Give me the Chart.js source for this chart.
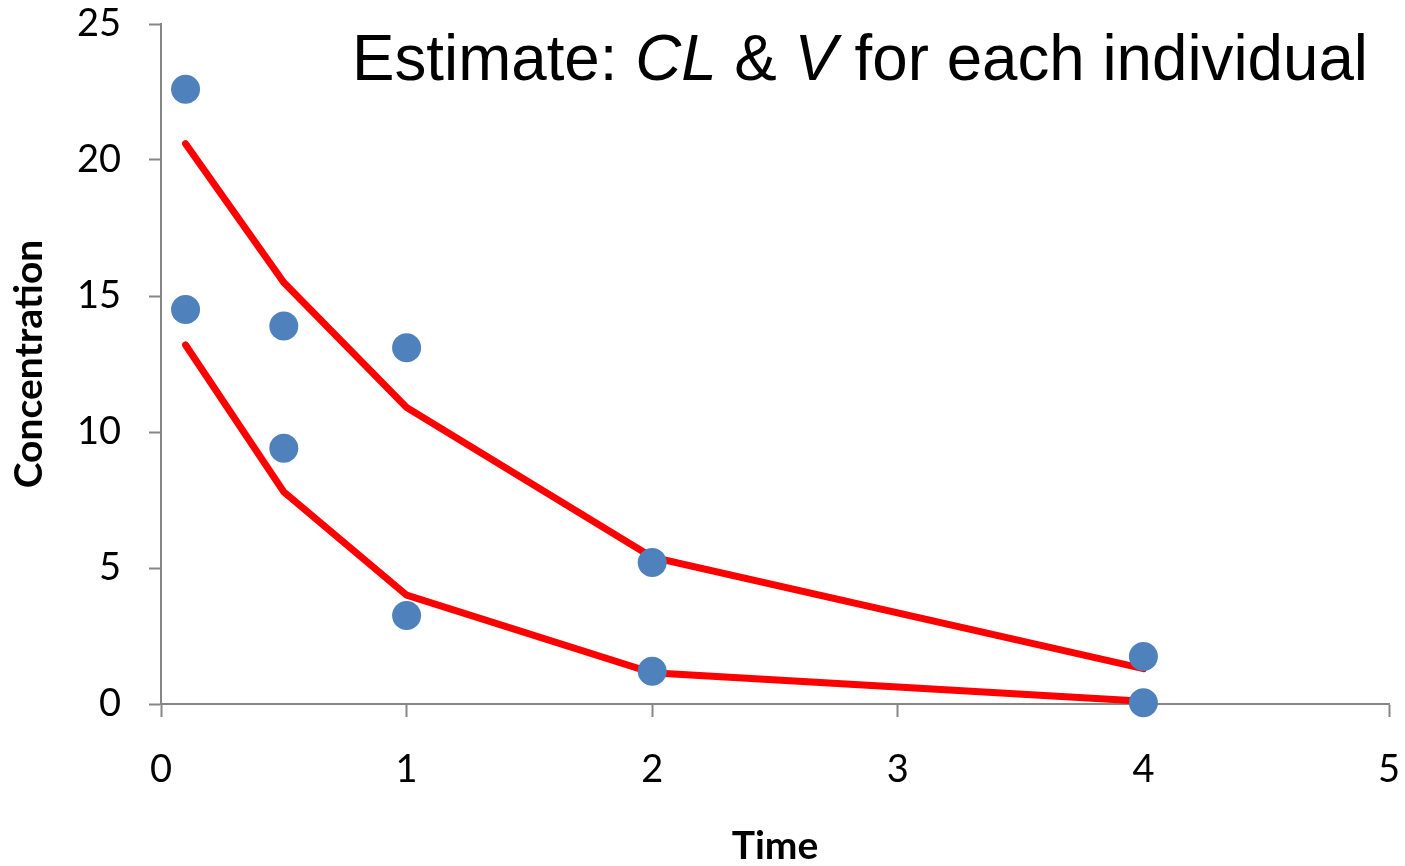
<!DOCTYPE html>
<html>
<head>
<meta charset="utf-8">
<title>Concentration vs Time</title>
<script src="https://cdn.jsdelivr.net/npm/chart.js@4.4.1/dist/chart.umd.min.js"></script>
<style>
  html, body { margin: 0; padding: 0; background: #fff; }
  #plot { display: block; }
</style>
</head>
<body>
<canvas id="plot" width="1405" height="866"></canvas>
<script>
// ── Data ─────────────────────────────────────────────────────
const times   = [0.1, 0.5, 1, 2, 4];
// observed concentrations, two individuals
const obsHigh = [22.6, 13.9, 13.1, 5.2, 1.75];
const obsLow  = [14.5, 9.4, 3.25, 1.2, 0.05];
// fitted curves
const fitHigh = [20.6, 15.5, 10.9, 5.4, 1.3];
const fitLow  = [13.2, 7.8, 4.0, 1.15, 0.1];

const xTicks = [0, 1, 2, 3, 4, 5];
const yTicks = [0, 5, 10, 15, 20, 25];

const toXY = (xs, ys) => xs.map((x, i) => ({ x, y: ys[i] }));

// ── Style ────────────────────────────────────────────────────
const AXIS_GREY  = '#868686';
const DOT_BLUE   = '#4F81BD';
const FIT_RED    = '#FF0000';
const FONT_FAM   = 'Lato, "Open Sans", sans-serif';
const TICK_FONT  = { family: FONT_FAM, size: 38 };
const TITLE_FONT = { family: FONT_FAM, size: 39, weight: 'bold', lineHeight: 1 };

// Headline with italic parameter names
const headlinePlugin = {
    id: 'headline',
    afterDraw(chart) {
        const ctx = chart.ctx;
        const parts = [
            ['Estimate: ', false],
            ['CL', true],
            [' & ', false],
            ['V', true],
            [' for each individual', false]
        ];
        const size = 65;
        const fam = '"Liberation Sans", Arial, sans-serif';
        ctx.save();
        ctx.fillStyle = '#000';
        ctx.textBaseline = 'alphabetic';
        let total = 0;
        parts.forEach(([t, it]) => {
            ctx.font = (it ? 'italic ' : '') + size + 'px ' + fam;
            total += ctx.measureText(t).width;
        });
        const left = 352, width = 1016, base = 80;
        ctx.translate(left, base);
        ctx.scale(width / total, 1);
        let x = 0;
        parts.forEach(([t, it]) => {
            ctx.font = (it ? 'italic ' : '') + size + 'px ' + fam;
            ctx.fillText(t, x, 0);
            x += ctx.measureText(t).width;
        });
        ctx.restore();
    }
};

// keep tick-label overhang from shrinking the plot area
function noOverhang(s) {
    s.paddingTop = 0;
    s.paddingBottom = 0;
    s.paddingLeft = 0;
    s.paddingRight = 0;
}

const dotSet = (label, ys) => ({
    label,
    data: toXY(times, ys),
    backgroundColor: DOT_BLUE,
    borderWidth: 0,
    pointRadius: 14.5,
    clip: false
});

const fitSet = (label, ys) => ({
    label,
    data: toXY(times, ys),
    showLine: true,
    borderColor: FIT_RED,
    borderWidth: 7,
    borderCapStyle: 'round',
    pointRadius: 0,
    clip: false
});

new Chart(document.getElementById('plot'), {
    type: 'scatter',
    data: {
        // dots first so they sit on top of the curves
        datasets: [
            dotSet('Observed A', obsHigh),
            dotSet('Observed B', obsLow),
            fitSet('Fit A', fitHigh),
            fitSet('Fit B', fitLow)
        ]
    },
    options: {
        responsive: false,
        animation: false,
        layout: { padding: { top: 24, right: 16, left: 0, bottom: 0 } },
        plugins: {
            legend: { display: false },
            tooltip: { enabled: false }
        },
        scales: {
            x: {
                type: 'linear',
                min: 0,
                max: 5,
                afterBuildTicks: s => { s.ticks = xTicks.map(v => ({ value: v })); },
                afterFit: s => { s.height = 162; noOverhang(s); },
                border: { display: true, color: AXIS_GREY, width: 2 },
                grid: { drawOnChartArea: false, drawTicks: true, tickLength: 13, color: AXIS_GREY, tickWidth: 2 },
                ticks: { color: '#000', font: TICK_FONT, padding: 30, maxRotation: 0 },
                title: {
                    display: true,
                    text: 'Time',
                    color: '#000',
                    font: TITLE_FONT,
                    padding: { top: 0, bottom: 0 }
                }
            },
            y: {
                type: 'linear',
                min: 0,
                max: 25,
                afterBuildTicks: s => { s.ticks = yTicks.map(v => ({ value: v })); },
                afterFit: s => { s.width = 161; noOverhang(s); },
                border: { display: true, color: AXIS_GREY, width: 2 },
                grid: { drawOnChartArea: false, drawTicks: true, tickLength: 12, color: AXIS_GREY, tickWidth: 2 },
                ticks: { color: '#000', font: TICK_FONT, padding: 28 },
                title: {
                    display: true,
                    text: 'Concentration',
                    color: '#000',
                    font: TITLE_FONT,
                    padding: { top: 10, bottom: 0 }
                }
            }
        }
    },
    plugins: [headlinePlugin]
});
</script>
</body>
</html>
